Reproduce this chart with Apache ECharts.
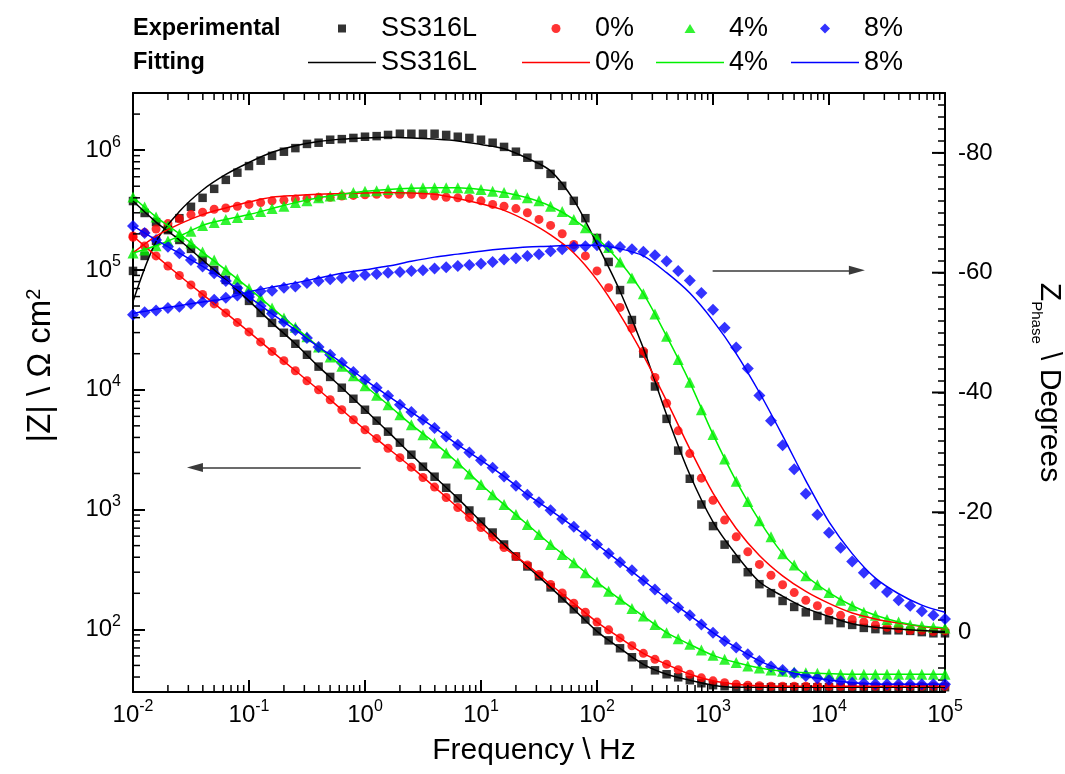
<!DOCTYPE html>
<html>
<head>
<meta charset="utf-8">
<script src="https://cdn.jsdelivr.net/npm/echarts@6/dist/echarts.min.js"></script>
<style>
  html, body { margin: 0; padding: 0; background: #fff; }
  #chart { width: 1065px; height: 774px; }
</style>
</head>
<body>
<div id="chart"></div>
<script>
// measured frequencies (10 points per decade)
const freq = [
  0.01, 0.0126, 0.0158, 0.02, 0.0251, 0.0316, 0.0398, 0.0501, 0.0631, 0.0794,
  0.1, 0.126, 0.158, 0.2, 0.251, 0.316, 0.398, 0.501, 0.631, 0.794,
  1, 1.26, 1.58, 2, 2.51, 3.16, 3.98, 5.01, 6.31, 7.94,
  10, 12.6, 15.8, 20, 25.1, 31.6, 39.8, 50.1, 63.1, 79.4,
  100, 126, 158, 200, 251, 316, 398, 501, 631, 794,
  1000, 1259, 1585, 1995, 2512, 3162, 3981, 5012, 6310, 7943,
  10000, 12589, 15849, 19953, 25119, 31623, 39811, 50119, 63096, 79433,
  100000
];
// fitted curves sampled every 0.2 decade
const fitFreq = [
  0.01, 0.0158, 0.0251, 0.0398, 0.0631, 0.1, 0.158, 0.251, 0.398, 0.631,
  1, 1.58, 2.51, 3.98, 6.31, 10, 15.8, 25.1, 39.8, 63.1,
  100, 158, 251, 398, 631, 1000, 1585, 2512, 3981, 6310,
  10000, 15849, 25119, 39811, 63096, 100000
];

// |Z| (ohm cm2), experimental
const zSS = [
  3.76e5, 2.99e5, 2.51e5, 2.15e5, 1.78e5, 1.50e5, 1.21e5, 1.00e5, 8.26e4, 6.81e4,
  5.52e4, 4.38e4, 3.62e4, 2.99e4, 2.42e4, 1.96e4, 1.56e4, 1.28e4, 1.04e4, 8.41e3,
  6.81e3, 5.52e3, 4.47e3, 3.62e3, 2.87e3, 2.28e3, 1.88e3, 1.52e3, 1.24e3, 982,
  794, 643, 511, 406, 335, 277, 224, 181, 147, 121,
  96.2, 80.9, 69.5, 58.5, 51.1, 45.5, 42.2, 39.8, 37.6, 35.5,
  34.2, 33.5, 32.9, 32.9, 32.9, 32.9, 32.9, 32.9, 32.9, 32.9,
  32.9, 32.9, 32.9, 32.9, 32.9, 32.9, 32.9, 32.9, 32.9, 32.9,
  32.9
];
const z0 = [
  1.92e5, 1.585e5, 1.31e5, 1.08e5, 8.99e4, 7.50e4, 6.25e4, 5.21e4, 4.38e4, 3.65e4,
  3.04e4, 2.51e4, 2.09e4, 1.75e4, 1.44e4, 1.19e4, 1.00e4, 8.26e3, 6.81e3, 5.62e3,
  4.64e3, 3.91e3, 3.25e3, 2.71e3, 2.26e3, 1.85e3, 1.54e3, 1.26e3, 1.04e3, 858,
  708, 590, 482, 406, 345, 287, 237, 201, 165, 139,
  115, 99.1, 84.9, 72.9, 63.1, 56.2, 51.1, 46.0, 42.2, 39.4,
  37.2, 35.8, 34.8, 34.2, 33.8, 33.5, 33.5, 33.5, 33.5, 33.5,
  33.5, 33.5, 33.5, 33.5, 33.5, 33.5, 33.5, 33.5, 33.5, 33.5,
  33.5
];
const z4 = [
  4.06e5, 3.35e5, 2.77e5, 2.33e5, 2.00e5, 1.68e5, 1.41e5, 1.21e5, 1.00e5, 8.41e4,
  7.01e4, 5.84e4, 4.82e4, 3.98e4, 3.32e4, 2.77e4, 2.28e4, 1.88e4, 1.57e4, 1.31e4,
  1.08e4, 8.99e3, 7.50e3, 6.19e3, 5.11e3, 4.22e3, 3.60e3, 2.97e3, 2.45e3, 1.98e3,
  1.62e3, 1.33e3, 1.10e3, 908, 750, 619, 511, 422, 360, 297,
  248, 208, 178, 149, 129, 110, 93.9, 83.6, 75.0, 67.2,
  60.7, 56.2, 52.8, 49.4, 47.6, 45.8, 44.7, 44.0, 43.5, 43.0,
  42.7, 42.2, 42.2, 42.2, 42.2, 42.2, 42.2, 42.2, 42.2, 42.2,
  42.2
];
const z8 = [
  2.33e5, 2.03e5, 1.78e5, 1.56e5, 1.38e5, 1.21e5, 1.07e5, 9.39e4, 8.09e4, 7.08e4,
  5.96e4, 5.01e4, 4.30e4, 3.69e4, 3.16e4, 2.71e4, 2.28e4, 1.96e4, 1.68e4, 1.41e4,
  1.21e4, 1.04e4, 8.91e3, 7.50e3, 6.52e3, 5.62e3, 4.80e3, 4.08e3, 3.48e3, 3.00e3,
  2.58e3, 2.23e3, 1.89e3, 1.58e3, 1.33e3, 1.15e3, 986, 836, 718, 607,
  511, 430, 364, 312, 256, 215, 181, 152, 131, 110,
  93.9, 79.9, 70.4, 61.9, 54.5, 48.9, 45.8, 43.0, 40.8, 39.1,
  37.8, 36.9, 35.9, 35.5, 35.0, 34.8, 34.8, 34.8, 34.8, 34.8,
  34.8
];

// phase (degrees), experimental
const pSS = [
  -60.3, -62.8, -65.3, -67.3, -69.1, -71.0, -72.5, -74.0, -75.5, -76.7,
  -77.8, -78.7, -79.5, -80.2, -80.8, -81.5, -81.7, -82.2, -82.3, -82.5,
  -82.7, -82.8, -83.0, -83.2, -83.2, -83.2, -83.2, -83.0, -82.7, -82.5,
  -82.2, -81.7, -81.0, -80.2, -79.2, -78.0, -76.5, -74.5, -72.0, -69.1,
  -65.8, -61.8, -57.1, -52.1, -46.5, -41.0, -35.6, -30.3, -25.6, -21.3,
  -17.7, -14.6, -12.2, -10.0, -8.0, -6.5, -5.2, -4.2, -3.3, -2.7,
  -2.0, -1.5, -1.2, -0.7, -0.5, -0.3, -0.3, -0.2, 0, 0.2,
  0.2
];
const p0 = [
  -65.9, -66.7, -67.3, -68.2, -69.0, -69.7, -70.1, -70.6, -70.8, -71.1,
  -71.4, -71.7, -72.0, -72.1, -72.3, -72.4, -72.6, -72.6, -72.8, -72.9,
  -73.0, -73.1, -73.1, -73.1, -73.1, -73.0, -72.8, -72.6, -72.5, -72.4,
  -72.0, -71.4, -71.1, -70.7, -70.0, -68.9, -67.9, -66.5, -64.7, -62.8,
  -60.3, -57.5, -54.2, -50.7, -46.9, -42.5, -38.2, -33.6, -29.8, -25.7,
  -22.0, -18.7, -15.9, -13.4, -11.3, -9.5, -7.9, -6.6, -5.3, -4.4,
  -3.5, -2.8, -2.1, -1.7, -1.2, -0.8, -0.6, -0.3, -0.3, -0.1,
  -0.2
];
const p4 = [
  -63.3, -63.8, -64.5, -65.3, -66.1, -66.9, -67.9, -68.4, -68.9, -69.2,
  -69.7, -70.2, -70.7, -71.1, -71.7, -72.0, -72.5, -72.8, -73.1, -73.4,
  -73.6, -73.7, -73.9, -74.0, -74.1, -74.2, -74.2, -74.2, -74.2, -74.1,
  -73.9, -73.6, -73.4, -73.1, -72.5, -72.0, -71.1, -70.2, -68.9, -67.5,
  -65.8, -64.2, -61.8, -59.1, -56.5, -53.1, -49.4, -45.5, -41.7, -37.1,
  -33.0, -28.9, -25.2, -21.8, -18.6, -15.9, -13.1, -11.2, -9.4, -7.9,
  -6.6, -5.3, -4.4, -3.3, -2.8, -2.1, -1.7, -1.2, -1.0, -0.8,
  -0.7
];
const p8 = [
  -53.0, -53.4, -53.7, -54.1, -54.3, -54.8, -55.1, -55.5, -55.8, -56.2,
  -56.4, -56.9, -57.0, -57.5, -57.7, -58.3, -58.6, -58.9, -59.1, -59.4,
  -59.6, -59.8, -60.0, -60.1, -60.3, -60.4, -60.7, -60.9, -61.1, -61.3,
  -61.5, -61.8, -62.2, -62.4, -62.8, -63.1, -63.6, -63.9, -64.3, -64.4,
  -64.6, -64.4, -64.3, -63.9, -63.5, -62.9, -61.9, -60.3, -58.7, -56.6,
  -53.8, -50.8, -47.5, -44.0, -39.5, -35.3, -31.2, -27.2, -23.1, -19.6,
  -16.6, -14.1, -11.8, -9.9, -8.1, -6.7, -5.3, -4.4, -3.5, -2.8,
  -2.2
];

// fitted |Z|
const fzSS = [3.76e5, 2.51e5, 1.78e5, 1.21e5, 8.26e4, 5.52e4, 3.62e4, 2.42e4, 1.56e4, 1.04e4,
  6.81e3, 4.47e3, 2.87e3, 1.88e3, 1.24e3, 794, 511, 335, 224, 147,
  96.2, 69.5, 51.1, 42.2, 37.6, 34.2, 32.9, 32.9, 32.9, 32.9, 32.9, 32.9, 32.9, 32.9, 32.9, 32.9];
const fz0 = [1.92e5, 1.31e5, 8.99e4, 6.25e4, 4.38e4, 3.04e4, 2.09e4, 1.44e4, 1.00e4, 6.81e3,
  4.64e3, 3.25e3, 2.26e3, 1.54e3, 1.04e3, 708, 482, 345, 237, 165,
  115, 84.9, 63.1, 51.1, 42.2, 37.2, 34.8, 33.8, 33.5, 33.5, 33.5, 33.5, 33.5, 33.5, 33.5, 33.5];
const fz4 = [4.06e5, 2.77e5, 2.00e5, 1.41e5, 1.00e5, 7.01e4, 4.82e4, 3.32e4, 2.28e4, 1.57e4,
  1.08e4, 7.50e3, 5.11e3, 3.60e3, 2.45e3, 1.62e3, 1.10e3, 750, 511, 360,
  248, 178, 129, 93.9, 75.0, 60.7, 52.8, 47.6, 44.7, 43.5, 42.7, 42.2, 42.2, 42.2, 42.2, 42.2];
const fz8 = [2.33e5, 1.78e5, 1.38e5, 1.07e5, 8.09e4, 5.96e4, 4.30e4, 3.16e4, 2.28e4, 1.68e4,
  1.21e4, 8.91e3, 6.52e3, 4.80e3, 3.48e3, 2.58e3, 1.89e3, 1.33e3, 986, 718,
  511, 364, 256, 181, 131, 93.9, 70.4, 54.5, 45.8, 40.8, 37.8, 35.9, 35.0, 34.8, 34.8, 34.8];

// fitted phase
const fpSS = [-55.2, -65.2, -70.2, -73.8, -76.4, -78.4, -80.1, -81.2, -81.9, -82.3,
  -82.5, -82.6, -82.5, -82.3, -82.0, -81.4, -80.7, -79.1, -77.0, -72.1,
  -64.8, -56.9, -47.4, -36.3, -26.3, -18.4, -12.9, -8.4, -6.0, -4.0, -2.6, -1.4, -0.8, -0.5, -0.25, -0.1];
const fp0 = [-63.3, -66.1, -68.1, -69.7, -70.8, -71.8, -72.6, -72.9, -73.1, -73.2,
  -73.3, -73.4, -73.3, -73.1, -72.4, -71.5, -70.4, -68.6, -66.3, -63.3,
  -58.8, -53.0, -46.2, -38.6, -30.6, -23.2, -17.3, -12.8, -9.4, -6.8, -4.8, -3.2, -2.2, -1.5, -0.95, -0.55];
const fp4 = [-63.3, -64.5, -66.1, -67.9, -68.9, -69.7, -70.7, -71.7, -72.5, -73.1,
  -73.6, -73.9, -74.1, -74.2, -74.2, -73.9, -73.4, -72.5, -71.1, -68.9,
  -65.8, -61.8, -56.5, -49.4, -41.7, -33.0, -25.2, -18.6, -13.1, -9.4, -6.6, -4.4, -2.8, -1.7, -1.0, -0.7];
const fp8 = [-53.2, -53.9, -54.5, -55.1, -55.7, -56.8, -57.6, -58.3, -59.1, -59.9,
  -60.5, -61.1, -61.9, -62.6, -63.1, -63.6, -64.0, -64.3, -64.4, -64.6,
  -64.6, -64.0, -62.8, -60.0, -56.6, -52.0, -46.5, -40.0, -32.8, -25.3, -18.4, -13.1, -9.0, -6.4, -4.5, -3.3];

const names = ['SS316L', '0%', '4%', '8%'];
const phaseLabels = [-80, -60, -40, -20, 0];
const minorMult = [2, 3, 4, 5, 6, 7, 8, 9];

const FONT = '"Liberation Sans", Arial, sans-serif';
const groups = [
  { name: names[0], color: '#000000', symbol: 'rect', size: 8.5, icon: [8, 8], z: zSS, p: pSS, fz: fzSS, fp: fpSS, left: 303 },
  { name: names[1], color: '#ff0000', symbol: 'circle', size: 9, icon: [9, 9], z: z0, p: p0, fz: fz0, fp: fp0, left: 517 },
  { name: names[2], color: '#00f000', symbol: 'triangle', size: 11, icon: [11, 9], z: z4, p: p4, fz: fz4, fp: fp4, left: 651 },
  { name: names[3], color: '#0000ff', symbol: 'diamond', size: 12, icon: [10, 10], z: z8, p: p8, fz: fz8, fp: fp8, left: 786 }
];

function pairs(xs, ys) { return xs.map((x, i) => [x, ys[i]]); }

const series = [];
groups.forEach(g => {
  series.push({ type: 'scatter', name: g.name, xAxisIndex: 0, yAxisIndex: 0, data: pairs(freq, g.z),
    symbol: g.symbol, symbolSize: g.size, itemStyle: { color: g.color }, z: 2 });
  series.push({ type: 'scatter', name: g.name, xAxisIndex: 0, yAxisIndex: 1, data: pairs(freq, g.p),
    symbol: g.symbol, symbolSize: g.size, itemStyle: { color: g.color }, z: 2 });
  series.push({ type: 'line', name: g.name + ' fit', xAxisIndex: 0, yAxisIndex: 0, data: pairs(fitFreq, g.fz),
    symbol: 'none', smooth: 0.3, itemStyle: { color: g.color }, lineStyle: { color: g.color, width: 1.5 }, z: 3 });
  series.push({ type: 'line', name: g.name + ' fit', xAxisIndex: 0, yAxisIndex: 1, data: pairs(fitFreq, g.fp),
    symbol: 'none', smooth: 0.3, itemStyle: { color: g.color }, lineStyle: { color: g.color, width: 1.5 }, z: 3 });
});

// minor log ticks (bottom + top, and left)
const xMinor = [];
[-2, -1, 0, 1, 2, 3, 4].forEach(d => minorMult.forEach(m => xMinor.push([m * Math.pow(10, d), 1000])));
const yMinor = [];
[1, 2, 3, 4, 5, 6].forEach(d => minorMult.forEach(m => {
  const v = m * Math.pow(10, d);
  if (v > 30 && v < 3e6) yMinor.push([1, v]);
}));

const tickStyle = { stroke: '#000', lineWidth: 1.5 };
series.push({
  type: 'custom', xAxisIndex: 0, yAxisIndex: 0, data: xMinor, encode: { x: 0, y: 1 }, silent: true, z: 5,
  renderItem: function (params, api) {
    const px = api.coord([api.value(0), 1000])[0];
    const cs = params.coordSys;
    return { type: 'group', children: [
      { type: 'line', shape: { x1: px, y1: cs.y + cs.height, x2: px, y2: cs.y + cs.height - 7 }, style: tickStyle },
      { type: 'line', shape: { x1: px, y1: cs.y, x2: px, y2: cs.y + 7 }, style: tickStyle }
    ] };
  }
});
series.push({
  type: 'custom', xAxisIndex: 0, yAxisIndex: 0, data: yMinor, encode: { x: 0, y: 1 }, silent: true, z: 5,
  renderItem: function (params, api) {
    const py = api.coord([1, api.value(1)])[1];
    const cs = params.coordSys;
    return { type: 'line', shape: { x1: cs.x, y1: py, x2: cs.x + 7, y2: py }, style: tickStyle };
  }
});
// major phase ticks on the right
series.push({
  type: 'custom', xAxisIndex: 0, yAxisIndex: 1, data: phaseLabels.map(v => [1, v]), encode: { x: 0, y: 1 }, silent: true, z: 5,
  renderItem: function (params, api) {
    const py = api.coord([1, api.value(1)])[1];
    const cs = params.coordSys;
    return { type: 'line', shape: { x1: cs.x + cs.width, y1: py, x2: cs.x + cs.width - 13, y2: py }, style: { stroke: '#000', lineWidth: 2 } };
  }
});

// arrows
const arrowStyle = { color: '#3a3a3a', width: 1.5, type: 'solid' };
series.push({
  type: 'scatter', xAxisIndex: 0, yAxisIndex: 0, data: [], silent: true,
  markLine: { silent: true, symbol: ['none', 'triangle'], symbolSize: [9, 16], label: { show: false },
    lineStyle: arrowStyle, data: [[{ coord: [0.918, 2240] }, { coord: [0.0342, 2240] }]] }
});
series.push({
  type: 'scatter', xAxisIndex: 0, yAxisIndex: 1, data: [], silent: true,
  markLine: { silent: true, symbol: ['none', 'triangle'], symbolSize: [9, 16], label: { show: false },
    lineStyle: arrowStyle, data: [[{ coord: [993, -60.4] }, { coord: [17400, -60.4] }]] }
});

const powRich = {
  b: { fontSize: 24, fontFamily: FONT, color: '#000', lineHeight: 32 },
  s: { fontSize: 16, fontFamily: FONT, color: '#000', verticalAlign: 'top' }
};
function powLabel(v) {
  const e = Math.round(Math.log10(v));
  if (Math.abs(Math.pow(10, e) - v) > 1e-6 * v) return '';
  return '{b|10}{s|' + e + '}';
}
const lineBlack = { show: true, onZero: false, lineStyle: { color: '#000', width: 2 } };
const legendText = { fontSize: 27, fontFamily: FONT, color: '#000' };

// two legend rows, one column per sample
const legends = [];
groups.forEach(g => {
  const iw = g.icon[0];
  const left = g.left + 34 - iw / 2;
  legends.push({
    left: left, top: 10, itemWidth: iw, itemHeight: g.icon[1], data: [g.name],
    textStyle: Object.assign({}, legendText, { padding: [0, 0, 0, g.left + 73 - (left + iw + 5)] })
  });
  legends.push({
    left: g.left, top: 44, itemWidth: 68, itemHeight: 1.5, icon: 'rect', data: [g.name + ' fit'],
    formatter: n => n.replace(' fit', ''), textStyle: legendText
  });
});

const chart = echarts.init(document.getElementById('chart'));
chart.setOption({
  animation: false,
  backgroundColor: '#fff',
  title: [
    { text: 'Experimental', left: 128, top: 12, textStyle: { fontSize: 23.5, fontWeight: 'bold', fontFamily: FONT, color: '#000' } },
    { text: 'Fitting', left: 128, top: 46, textStyle: { fontSize: 23.5, fontWeight: 'bold', fontFamily: FONT, color: '#000' } }
  ],
  legend: legends,
  grid: { left: 133, right: 120, top: 93, bottom: 82, containLabel: false, outerBoundsMode: 'none' },
  xAxis: [
    { type: 'log', logBase: 10, min: 0.01, max: 1e5, position: 'bottom',
      name: 'Frequency \\ Hz', nameLocation: 'middle', nameGap: 44,
      nameTextStyle: { fontSize: 30, fontFamily: FONT, color: '#000', padding: [0, 10, 0, 0] },
      axisLine: lineBlack, axisTick: { inside: true, length: 12, lineStyle: { color: '#000', width: 2 } },
      axisLabel: { formatter: powLabel, rich: powRich, margin: 7 }, splitLine: { show: false } },
    { type: 'log', logBase: 10, min: 0.01, max: 1e5, position: 'top',
      axisLine: lineBlack, axisTick: { inside: true, length: 12, lineStyle: { color: '#000', width: 2 } },
      axisLabel: { show: false }, splitLine: { show: false } }
  ],
  yAxis: [
    { type: 'log', logBase: 10, min: 30, max: 3e6, position: 'left',
      name: '|Z| \\ Ω cm{sup|2}', nameLocation: 'middle', nameGap: 76, nameRotate: 90,
      nameTextStyle: { fontSize: 33, fontFamily: FONT, color: '#000', padding: [0, 0, 0, 54],
        rich: { sup: { fontSize: 20, fontFamily: FONT, color: '#000', verticalAlign: 'top' } } },
      axisLine: lineBlack, axisTick: { inside: true, length: 12, lineStyle: { color: '#000', width: 2 } },
      axisLabel: { formatter: powLabel, rich: powRich, margin: 12 }, splitLine: { show: false } },
    { type: 'value', min: -90, max: 10, interval: 2, inverse: true, position: 'right',
      name: '{z|Z}{sub|Phase}{d| \\ Degrees}', nameLocation: 'middle', nameGap: 84, nameRotate: -90,
      nameTextStyle: { padding: [0, 20, 0, 0], rich: {
        z: { fontSize: 30, fontFamily: FONT, color: '#000', lineHeight: 40 },
        d: { fontSize: 30, fontFamily: FONT, color: '#000', lineHeight: 40 },
        sub: { fontSize: 15, fontFamily: FONT, color: '#000', verticalAlign: 'bottom' } } },
      axisLine: lineBlack, axisTick: { inside: true, length: 7, lineStyle: { color: '#000', width: 1.5 } },
      axisLabel: { margin: 13, fontSize: 24, fontFamily: FONT, color: '#000',
        formatter: v => (Math.round(v) % 20 === 0 && v <= 0) ? String(Math.round(v)) : '' },
      splitLine: { show: false } }
  ],
  series: series
});
</script>
</body>
</html>
